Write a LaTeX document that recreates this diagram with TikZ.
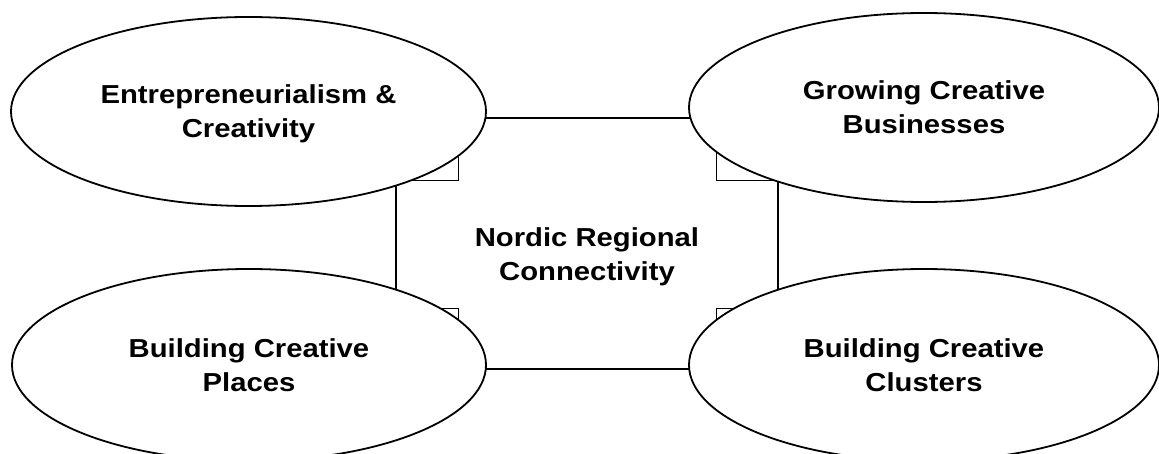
\documentclass[tikz,border=0pt]{standalone}
\usepackage{fontspec}
\setmainfont{Liberation Sans}
\usepackage{graphicx}
\usetikzlibrary{shapes.geometric}
\newcommand{\twoline}[2]{\scalebox{1.125}[1]{\begin{tabular}[b]{@{}c@{}}#1\\#2\end{tabular}}}
\tikzset{
  labelfont/.style={font=\bfseries\fontsize{26}{34}\selectfont},
  ell/.style={ellipse, draw, line width=1.8pt, fill=white, inner sep=0pt,
              labelfont, text height=52.6pt, text depth=0pt},
  hub/.style={rectangle, draw, line width=1.2pt, inner sep=0pt,
              minimum width=382pt, minimum height=251pt,
              labelfont, text height=73.6pt, text depth=0pt},
  corner/.style={draw, line width=1.6pt}
}
\begin{document}
\begin{tikzpicture}[x=1pt,y=-1pt]
\useasboundingbox (0,0) rectangle (1159,454);
% central hub
\node[hub] (nrc) at (587,243.5) {\twoline{Nordic Regional}{Connectivity}};
% corner squares
\draw[corner] (nrc.north west) rectangle ++(63,63);
\draw[corner] (nrc.north east) rectangle ++(-62,63);
\draw[corner] (nrc.south west) rectangle ++(63,-61);
\draw[corner] (nrc.south east) rectangle ++(-62,-61);
% ellipses
\node[ell, minimum width=475pt, minimum height=189pt] (ec) at (248.5,111.5)
  {\twoline{Entrepreneurialism \&}{Creativity}};
\node[ell, minimum width=470pt, minimum height=189pt] (gb) at (924,107.5)
  {\twoline{Growing Creative}{Businesses}};
\node[ell, minimum width=474pt, minimum height=192pt] (bp) at (249,365)
  {\twoline{Building Creative}{Places}};
\node[ell, minimum width=470pt, minimum height=192pt] (bc) at (924,365)
  {\twoline{Building Creative}{Clusters}};
\end{tikzpicture}
\end{document}
